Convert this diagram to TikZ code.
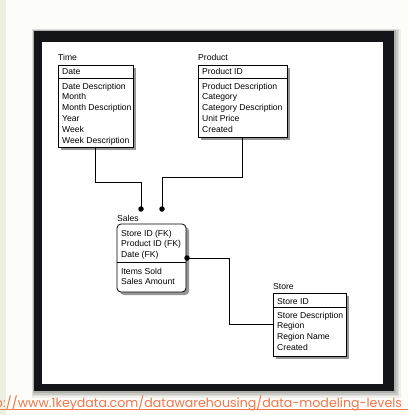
\documentclass[tikz,border=0pt]{standalone}
\usepackage{fontspec}
\setmainfont{Liberation Sans}
\newfontfamily\linkfont{Poppins}
\definecolor{pagebg}{RGB}{252,252,248}
\definecolor{strip}{RGB}{236,240,222}
\definecolor{framec}{RGB}{20,21,24}
\definecolor{linkc}{RGB}{240,118,78}
\definecolor{boxshadow}{RGB}{150,150,150}
\begin{document}
\begin{tikzpicture}[x=1pt,y=-1pt,
  tbl/.style={draw=black, line width=0.8pt, fill=white, anchor=north west, inner sep=0pt, outer sep=0pt},
  shadowbox/.style={fill=boxshadow},
  lbl/.style={anchor=base west, inner sep=0pt, font=\fontsize{8.6}{10}\selectfont},
  conn/.style={draw=black, line width=0.8pt},
  fkdot/.style={circle, fill=black, inner sep=0pt, minimum size=5.5pt},
  link/.style={inner sep=0pt, font=\linkfont\fontsize{12.6}{13}\selectfont, text=linkc}]

\useasboundingbox (0,0) rectangle (408,415);
\clip (0,0) rectangle (408,415);

% page and slide frame
\fill[pagebg] (0,0) rectangle (408,415);
\fill[strip] (0,0) rectangle (6,415);
\foreach \d/\o in {7/0.05,5/0.07,3.5/0.09,2/0.12}
  \fill[black, opacity=\o] (34-\d/3,31-\d/3) rectangle (394+\d,391+\d);
\fill[framec] (34,31) rectangle (394,391);
\fill[white] (42,42) rectangle (383,384);

% link under the frame
\node[link, anchor=base west] (url) at (3,407)
  {://www.1keydata.com/datawarehousing/data-modeling-levels};
\node[link, anchor=base east] (urlhead) at (url.base west) {http};
\draw[linkc, line width=0.6pt] (0,409.5) -- (408,409.5);

% Time
\fill[shadowbox] (61,68) rectangle (136,150);
\node[tbl, minimum width=75pt, minimum height=82pt] (time) at (58,65) {};
\draw[line width=0.8pt] (time.west |- 0,78) -- (time.east |- 0,78);
\node[lbl] (timename) at (58,60) {Time};
\node[lbl] (timekey) at (62,74) {Date};
\foreach \t [count=\i from 0] in {Date Description,Month,Month Description,Year,Week,Week Description}
  \node[lbl] (time\i) at (62,89+10.8*\i) {\t};

% Product
\fill[shadowbox] (201,68) rectangle (290,140);
\node[tbl, minimum width=89pt, minimum height=72pt] (product) at (198,65) {};
\draw[line width=0.8pt] (product.west |- 0,78) -- (product.east |- 0,78);
\node[lbl] (productname) at (198,60) {Product};
\node[lbl] (productkey) at (202,74) {Product ID};
\foreach \t [count=\i from 0] in {Product Description,Category,Category Description,Unit Price,Created}
  \node[lbl] (product\i) at (202,89+10.8*\i) {\t};

% Sales
\fill[shadowbox, rounded corners=4pt] (120,227) rectangle (189,295);
\node[tbl, rounded corners=4pt, minimum width=69pt, minimum height=68pt] (sales) at (117,224) {};
\draw[line width=0.8pt] (sales.west |- 0,262) -- (sales.east |- 0,262);
\node[lbl] (salesname) at (117,221) {Sales};
\foreach \t [count=\i from 0] in {Store ID (FK),Product ID (FK),Date (FK)}
  \node[lbl] (saleskey\i) at (121,236+10.8*\i) {\t};
\foreach \t [count=\i from 0] in {Items Sold,Sales Amount}
  \node[lbl] (sales\i) at (121,274+10.8*\i) {\t};

% Store
\fill[shadowbox] (276,296) rectangle (349,359);
\node[tbl, minimum width=73pt, minimum height=63pt] (store) at (273,293) {};
\draw[line width=0.8pt] (store.west |- 0,307) -- (store.east |- 0,307);
\node[lbl] (storename) at (273,289) {Store};
\node[lbl] (storekey) at (277,304) {Store ID};
\foreach \t [count=\i from 0] in {Store Description,Region,Region Name,Created}
  \node[lbl] (store\i) at (277,318+10.8*\i) {\t};

% relationship ends
\node[fkdot] (timefk) at (141,209) {};
\node[fkdot] (productfk) at (162,209) {};
\node[fkdot] (storefk) at (187,258) {};

% relationships
\draw[conn] (time.south) -- ++(0,35) -| (timefk.center);
\draw[conn] (product.south) -- ++(0,40) -| (productfk.center);
\draw[conn] (storefk.center) -- ++(42,0) |- (store.west);

\end{tikzpicture}
\end{document}
